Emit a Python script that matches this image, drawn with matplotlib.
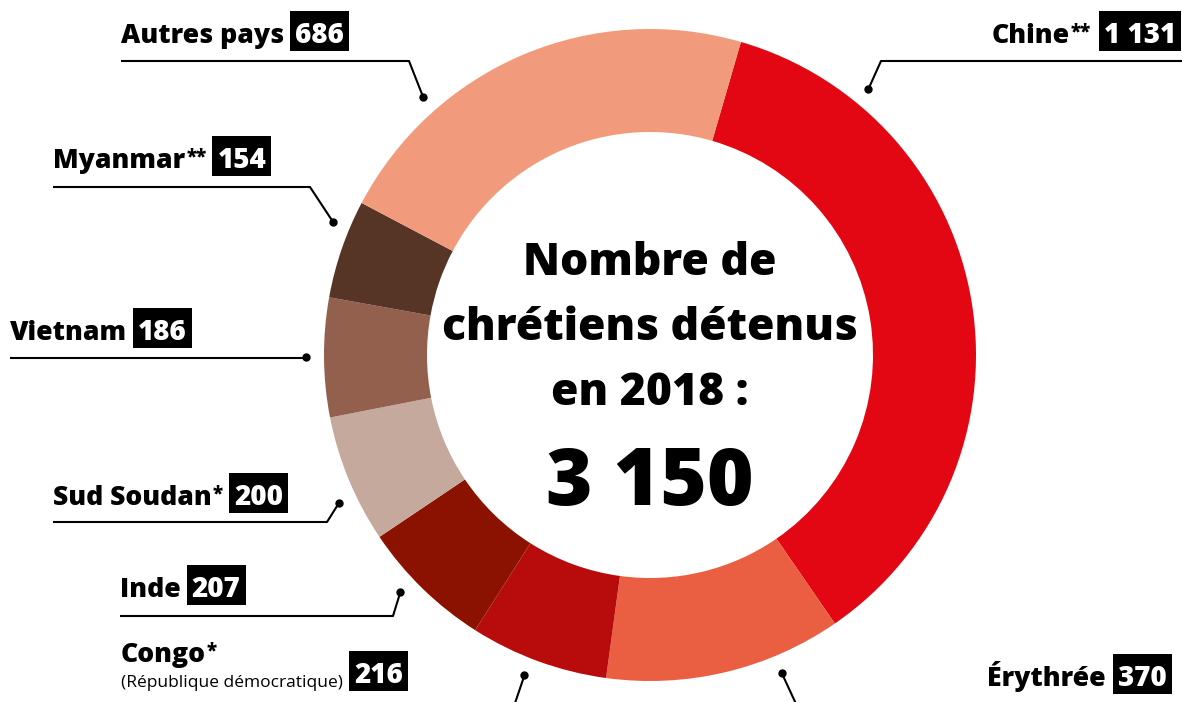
import matplotlib.pyplot as plt
import numpy as np
from matplotlib.patches import Rectangle

plt.rcParams["font.family"] = ["Open Sans", "DejaVu Sans"]

# data, clockwise from the top
countries = ["Chine", "Érythrée", "Congo", "Inde", "Sud Soudan", "Vietnam", "Myanmar", "Autres pays"]
notes = ["**", "", "*", "", "*", "", "**", ""]
detenus = [1131, 370, 216, 207, 200, 186, 154, 686]
colors = ["#E30613", "#EA5E42", "#B70C0B", "#8C1200", "#C4A99C", "#93604D", "#563426", "#F29A7C"]
total = sum(detenus)

W, H = 1182, 702
CX, CY = 650, 355          # ring centre, pixels from the top-left
R_OUT, R_IN = 326, 223
R_DOT = 344

# label layout: side, x, baseline, underline y, elbow x, dot angle (deg)
layout = {
    "Chine":       ("right", 1181, 43, 61, 881, 50.6),
    "Érythrée":    ("right", 1172, 686, None, None, 292.5),
    "Congo":       ("left", 121, 662, None, None, 248.6),
    "Inde":        ("left", 120, 597, 616, 393, 223.5),
    "Sud Soudan":  ("left", 53, 505, 522, 327, 205.4),
    "Vietnam":     ("left", 10, 340, 358, None, 180.3),
    "Myanmar":     ("left", 53, 168, 187, 310, 157.2),
    "Autres pays": ("left", 121, 43, 61, 409, 131.3),
}
LABEL_FS = 19.2
NUM_FS = 20
NOTE_FS = 13.5
GAP, PAD = 6, 5
WEIGHT = 800


def Y(y):
    return H - y


def fmt(n):
    return f"{n:,}".replace(",", " ")


fig = plt.figure(figsize=(W / 100, H / 100), dpi=100)
ax = fig.add_axes([0, 0, 1, 1])
ax.pie(detenus, colors=colors, radius=R_OUT, center=(CX, Y(CY)), startangle=73.8,
       counterclock=False, wedgeprops=dict(width=R_OUT - R_IN, edgecolor="none", linewidth=0))
ax.set_xlim(0, W)
ax.set_ylim(0, H)
ax.set_aspect("auto")
ax.axis("off")

renderer = fig.canvas.get_renderer()


def number_box(x, base, value, ha="left"):
    t = ax.text(x, Y(base), fmt(value), ha=ha, va="baseline", color="white",
                fontsize=NUM_FS, fontweight=WEIGHT, zorder=5)
    bb = t.get_window_extent(renderer)
    ax.add_patch(Rectangle((bb.x0 - PAD, Y(base + 8)), bb.width + 2 * PAD, 40,
                           fc="black", ec="none", zorder=4))
    return bb.x0 - PAD, bb.x1 + PAD


def name_left(x, base, name, note):
    t = ax.text(x, Y(base), name, ha="left", va="baseline", fontsize=LABEL_FS, fontweight=WEIGHT)
    x1 = t.get_window_extent(renderer).x1
    if note:
        n = ax.text(x1 + 1, Y(base - 6), note, ha="left", va="baseline",
                    fontsize=NOTE_FS, fontweight=WEIGHT)
        x1 = n.get_window_extent(renderer).x1
    return x1


def name_right(x, base, name, note):
    if note:
        n = ax.text(x, Y(base - 6), note, ha="right", va="baseline",
                    fontsize=NOTE_FS, fontweight=WEIGHT)
        x = n.get_window_extent(renderer).x0 - 1
    ax.text(x, Y(base), name, ha="right", va="baseline", fontsize=LABEL_FS, fontweight=WEIGHT)


def dot_xy(ang):
    a = np.radians(ang)
    return CX + R_DOT * np.cos(a), CY - R_DOT * np.sin(a)


for name, note, val in zip(countries, notes, detenus):
    side, x, base, uy, ex, ang = layout[name]
    dx, dy = dot_xy(ang)
    if side == "left":
        x1 = name_left(x, base, name, note)
        if name == "Congo":
            sub = ax.text(x, Y(base + 25), "(République démocratique)", ha="left",
                          va="baseline", fontsize=12.5)
            number_box(sub.get_window_extent(renderer).x1 + GAP + PAD, base + 21, val)
        else:
            number_box(x1 + GAP + PAD, base, val)
        line_start = x
    else:
        x0, _ = number_box(x - PAD, base, val, ha="right")
        name_right(x0 - GAP - 2, base, name, note)
        line_start = W

    # leader lines
    if uy is not None:
        xs = [line_start, ex if ex is not None else dx, dx]
        ys = [uy, uy, dy]
    elif name == "Congo":
        xs, ys = [dx, 514], [dy, 706]
    else:
        xs, ys = [dx, 797], [dy, 706]
    ax.plot(xs, [Y(v) for v in ys], color="black", lw=1.5, solid_capstyle="butt", zorder=3)
    ax.plot(dx, Y(dy), "o", color="black", ms=5, zorder=3)

# centre text
for line, base in [("Nombre de", 275), ("chrétiens détenus", 340), ("en 2018 :", 405)]:
    ax.text(CX, Y(base), line, ha="center", va="baseline", fontsize=32, fontweight=WEIGHT)
ax.text(CX, Y(505), fmt(total), ha="center", va="baseline", fontsize=57.5, fontweight=WEIGHT)

fig.savefig("out.png", dpi=100)
